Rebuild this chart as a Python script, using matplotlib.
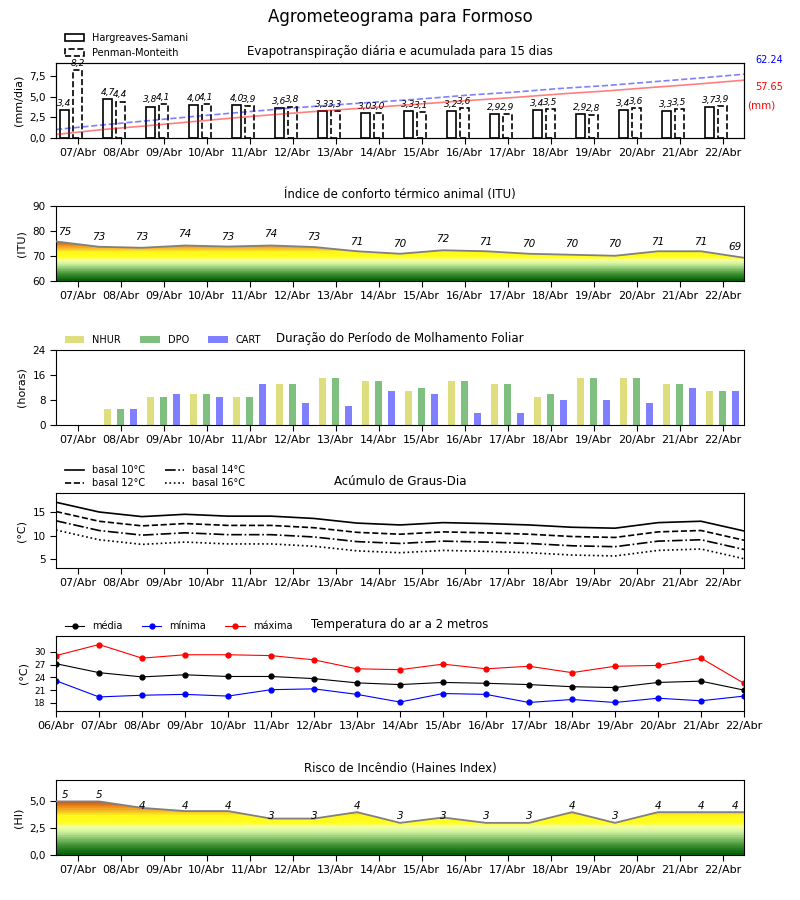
import numpy as np
import matplotlib
matplotlib.use("Agg")
import matplotlib.pyplot as plt
from matplotlib.colors import LinearSegmentedColormap
from matplotlib.patches import Polygon, Patch
from matplotlib.ticker import FuncFormatter

dias17 = ['06/Abr', '07/Abr', '08/Abr', '09/Abr', '10/Abr', '11/Abr', '12/Abr', '13/Abr',
          '14/Abr', '15/Abr', '16/Abr', '17/Abr', '18/Abr', '19/Abr', '20/Abr', '21/Abr', '22/Abr']
dias16 = dias17[1:]

# evapotranspiracao diaria (mm/dia)
et_hs = [3.4, 4.7, 3.8, 4.0, 4.0, 3.6, 3.3, 3.0, 3.3, 3.2, 2.9, 3.4, 2.9, 3.4, 3.3, 3.7]
et_pm = [8.2, 4.4, 4.1, 4.1, 3.9, 3.8, 3.3, 3.0, 3.1, 3.6, 2.9, 3.5, 2.8, 3.6, 3.5, 3.9]
acum_hs_total = 57.65
acum_pm_total = 62.24

# indice de conforto termico (ITU)
itu = [75.8, 73.7, 73.3, 74.2, 73.8, 74.2, 73.6, 71.9, 70.9, 72.3, 71.9, 70.9, 70.5, 70.1,
       71.9, 71.9, 69.3]

# molhamento foliar (horas)
nhur = [0, 5, 9, 10, 9, 13, 15, 14, 11, 14, 13, 9, 15, 15, 13, 11]
dpo = [0, 5, 9, 10, 9, 13, 15, 14, 12, 14, 13, 10, 15, 15, 13, 11]
cart = [0, 5, 10, 9, 13, 7, 6, 11, 10, 4, 4, 8, 8, 7, 12, 11]

# graus-dia
gd10 = [17.2, 15.1, 14.1, 14.6, 14.2, 14.2, 13.7, 12.7, 12.3, 12.8, 12.6, 12.3, 11.8, 11.6,
        12.8, 13.1, 11.0]
gd12 = [15.2, 13.1, 12.1, 12.6, 12.2, 12.2, 11.7, 10.7, 10.3, 10.8, 10.6, 10.3, 9.8, 9.6,
        10.8, 11.1, 9.0]
gd14 = [13.2, 11.1, 10.1, 10.6, 10.2, 10.2, 9.7, 8.7, 8.3, 8.8, 8.6, 8.3, 7.8, 7.6,
        8.8, 9.1, 7.0]
gd16 = [11.2, 9.1, 8.1, 8.6, 8.2, 8.2, 7.7, 6.7, 6.3, 6.8, 6.6, 6.3, 5.8, 5.6,
        6.8, 7.1, 5.0]

# temperatura do ar (°C)
t_med = [27.2, 25.1, 24.1, 24.6, 24.2, 24.2, 23.7, 22.7, 22.3, 22.8, 22.6, 22.3, 21.8, 21.6,
         22.8, 23.1, 21.0]
t_min = [23.2, 19.4, 19.8, 20.0, 19.6, 21.1, 21.3, 20.0, 18.2, 20.2, 20.0, 18.1, 18.8, 18.1,
         19.1, 18.5, 19.6]
t_max = [29.1, 31.7, 28.5, 29.3, 29.3, 29.1, 28.1, 26.0, 25.8, 27.1, 26.0, 26.6, 25.1, 26.6,
         26.8, 28.5, 22.6]

# risco de incendio (Haines)
haines = [5.0, 5.0, 4.4, 4.1, 4.1, 3.4, 3.4, 4.0, 3.0, 3.5, 3.0, 3.0, 4.0, 3.0, 4.0, 4.0, 4.0]

# ---- layout ----
W, H = 800, 900
fig = plt.figure(figsize=(8, 9), dpi=100)
fig.text(0.5, 1 - 17 / H, 'Agrometeograma para Formoso', ha='center', va='center', fontsize=12)

TOPS = [63, 206, 350, 493, 636, 780]
AX_H = 75
LEG_X = 0.006  # legendas um pouco para dentro


def make_ax(top):
    ax = fig.add_axes([56 / W, 1 - (top + AX_H) / H, 688 / W, AX_H / H])
    ax.set_xlim(-0.5, 15.5)
    ax.tick_params(axis='x', labelsize=8, length=4)
    ax.tick_params(axis='y', labelsize=7.5, length=4)
    return ax


def virgula(v, p):
    return f'{v:.1f}'.replace('.', ',')


x16 = np.arange(16)
x17 = np.arange(17) - 0.5

grad_cmap = LinearSegmentedColormap.from_list('risco', [
    (0.0, '#05620a'), (0.15, '#3a8c2e'), (0.3, '#86c46c'), (0.42, '#cdf0a0'),
    (0.52, '#f4ffa0'), (0.6, '#ffff20'), (0.74, '#fff81a'), (0.82, '#f8c028'),
    (0.91, '#ee9020'), (1.0, '#d25a0e')], N=24)


def grad_fill(ax, x, y, ymin):
    ymax = max(y)
    img = ax.imshow(np.linspace(0, 1, 256).reshape(-1, 1), cmap=grad_cmap, aspect='auto',
                    origin='lower', extent=[x[0], x[-1], ymin, ymax], zorder=1)
    verts = [(x[0], ymin)] + list(zip(x, y)) + [(x[-1], ymin)]
    poly = Polygon(verts, closed=True, facecolor='none', edgecolor='none')
    ax.add_patch(poly)
    img.set_clip_path(poly)
    ax.plot(x, y, color='0.5', lw=1.3, zorder=3)


def value_labels(ax, x, y, dy):
    for i, (xi, yi) in enumerate(zip(x, y)):
        # os rotulos das pontas ficam puxados para dentro do eixo
        dx = 6.5 if i == 0 else (-6.5 if i == len(x) - 1 else 0)
        ax.annotate(str(int(yi)), (xi, yi), xytext=(dx, dy), textcoords='offset points',
                    ha='center', va='bottom', fontsize=7.5, style='italic', zorder=4)


# ---- 1: evapotranspiracao ----
ax1 = make_ax(TOPS[0])
bw = 0.2
ax1.bar(x16 - 0.3, et_hs, width=bw, facecolor='white', edgecolor='black', lw=1.2)
ax1.bar(x16, et_pm, width=bw, facecolor='white', edgecolor='black', lw=1.2, linestyle='--')
for xi, v in zip(x16 - 0.3, et_hs):
    ax1.text(xi, v + 0.25, virgula(v, None), ha='center', va='bottom', fontsize=6.5, style='italic')
for xi, v in zip(x16, et_pm):
    ax1.text(xi, v + 0.25, virgula(v, None), ha='center', va='bottom', fontsize=6.5, style='italic')
ax1.set_ylim(0, 9.05)
ax1.set_yticks([0, 2.5, 5, 7.5])
ax1.yaxis.set_major_formatter(FuncFormatter(virgula))
ax1.set_xticks(x16)
ax1.set_xticklabels(dias16)
ax1.set_ylabel('(mm/dia)', fontsize=8)
ax1.set_title('Evapotranspiração diária e acumulada para 15 dias', fontsize=8.5)
ax1b = ax1.twinx()
xa = np.linspace(-0.5, 15.5, 16)
ax1b.plot(xa, np.cumsum(et_hs), color='red', alpha=0.5, lw=1.2)
ax1b.plot(xa, np.cumsum(et_pm), color='blue', alpha=0.5, lw=1.2, linestyle='--')
ax1b.set_ylim(0, 72.5)
ax1b.set_yticks([])
ax1b.set_xlim(-0.5, 15.5)
fig.text(769 / W, 1 - 60 / H, f'{acum_pm_total:.2f}', color='blue', fontsize=7, ha='center', va='center')
fig.text(769 / W, 1 - 87 / H, f'{acum_hs_total:.2f}', color='red', fontsize=7, ha='center', va='center')
fig.text(761 / W, 1 - 105 / H, '(mm)', color='red', fontsize=7.5, ha='center', va='center')
ax1.legend(handles=[Patch(facecolor='white', edgecolor='black', lw=1.2, label='Hargreaves-Samani'),
                    Patch(facecolor='white', edgecolor='black', lw=1.2, linestyle='--',
                          label='Penman-Monteith')],
           loc='lower left', bbox_to_anchor=(LEG_X, 1.0), frameon=False, fontsize=7,
           borderaxespad=0.1, handlelength=2.0, labelspacing=0.5)

# ---- 2: ITU ----
ax2 = make_ax(TOPS[1])
grad_fill(ax2, x17, itu, 60)
value_labels(ax2, x17, [int(v) for v in itu], 5)
ax2.set_xlim(-0.5, 15.5)
ax2.set_ylim(60, 90)
ax2.set_yticks([60, 70, 80, 90])
ax2.set_xticks(x16)
ax2.set_xticklabels(dias16)
ax2.set_ylabel('(ITU)', fontsize=8)
ax2.set_title('Índice de conforto térmico animal (ITU)', fontsize=8.5)

# ---- 3: molhamento foliar ----
ax3 = make_ax(TOPS[2])
bw3 = 0.15
ax3.bar(x16 - 0.3, nhur, width=bw3, color='y', alpha=0.5, label='NHUR')
ax3.bar(x16, dpo, width=bw3, color='g', alpha=0.5, label='DPO')
ax3.bar(x16 + 0.3, cart, width=bw3, color='b', alpha=0.5, label='CART')
ax3.set_ylim(0, 24)
ax3.set_yticks([0, 8, 16, 24])
ax3.set_xticks(x16)
ax3.set_xticklabels(dias16)
ax3.set_ylabel('(horas)', fontsize=8)
ax3.set_title('Duração do Período de Molhamento Foliar', fontsize=8.5)
ax3.legend(loc='lower left', bbox_to_anchor=(LEG_X, 1.0), frameon=False, fontsize=7, ncol=3,
           borderaxespad=0.1, handlelength=2.0)

# ---- 4: graus-dia ----
ax4 = make_ax(TOPS[3])
ax4.plot(x17, gd10, color='black', lw=1.2, ls='-', label='basal 10°C')
ax4.plot(x17, gd12, color='black', lw=1.2, ls='--', label='basal 12°C')
ax4.plot(x17, gd14, color='black', lw=1.2, ls='-.', label='basal 14°C')
ax4.plot(x17, gd16, color='black', lw=1.2, ls=':', label='basal 16°C')
ax4.set_ylim(min(gd16) - 2, max(gd10) + 2)
ax4.set_yticks([5, 10, 15])
ax4.set_xticks(x16)
ax4.set_xticklabels(dias16)
ax4.set_ylabel('(°C)', fontsize=8)
ax4.set_title('Acúmulo de Graus-Dia', fontsize=8.5)
ax4.legend(loc='lower left', bbox_to_anchor=(LEG_X, 1.0), frameon=False, fontsize=7, ncol=2,
           borderaxespad=0.1, handlelength=2.0, labelspacing=0.3)

# ---- 5: temperatura ----
ax5 = make_ax(TOPS[4])
ax5.plot(x17, t_med, color='black', marker='o', ms=3.5, lw=0.8, label='média')
ax5.plot(x17, t_min, color='blue', marker='o', ms=3.5, lw=0.8, label='mínima')
ax5.plot(x17, t_max, color='red', marker='o', ms=3.5, lw=0.8, label='máxima')
ax5.set_ylim(min(t_min) - 2, max(t_max) + 2)
ax5.set_yticks([18, 21, 24, 27, 30])
ax5.tick_params(axis='y', labelsize=6.5)
ax5.set_xticks(x17)
ax5.set_xticklabels(dias17)
ax5.set_ylabel('(°C)', fontsize=8)
ax5.set_title('Temperatura do ar a 2 metros', fontsize=8.5)
ax5.legend(loc='lower left', bbox_to_anchor=(LEG_X, 1.0), frameon=False, fontsize=7, ncol=3,
           borderaxespad=0.1, handlelength=2.0)

# ---- 6: Haines ----
ax6 = make_ax(TOPS[5])
grad_fill(ax6, x17, haines, 0)
value_labels(ax6, x17, [int(v) for v in haines], 1)
ax6.set_xlim(-0.5, 15.5)
ax6.set_ylim(0, max(haines) + 2)
ax6.set_yticks([0, 2.5, 5])
ax6.yaxis.set_major_formatter(FuncFormatter(virgula))
ax6.set_xticks(x16)
ax6.set_xticklabels(dias16)
ax6.set_ylabel('(HI)', fontsize=8)
ax6.set_title('Risco de Incêndio (Haines Index)', fontsize=8.5)

fig.savefig('out.png', dpi=100)
